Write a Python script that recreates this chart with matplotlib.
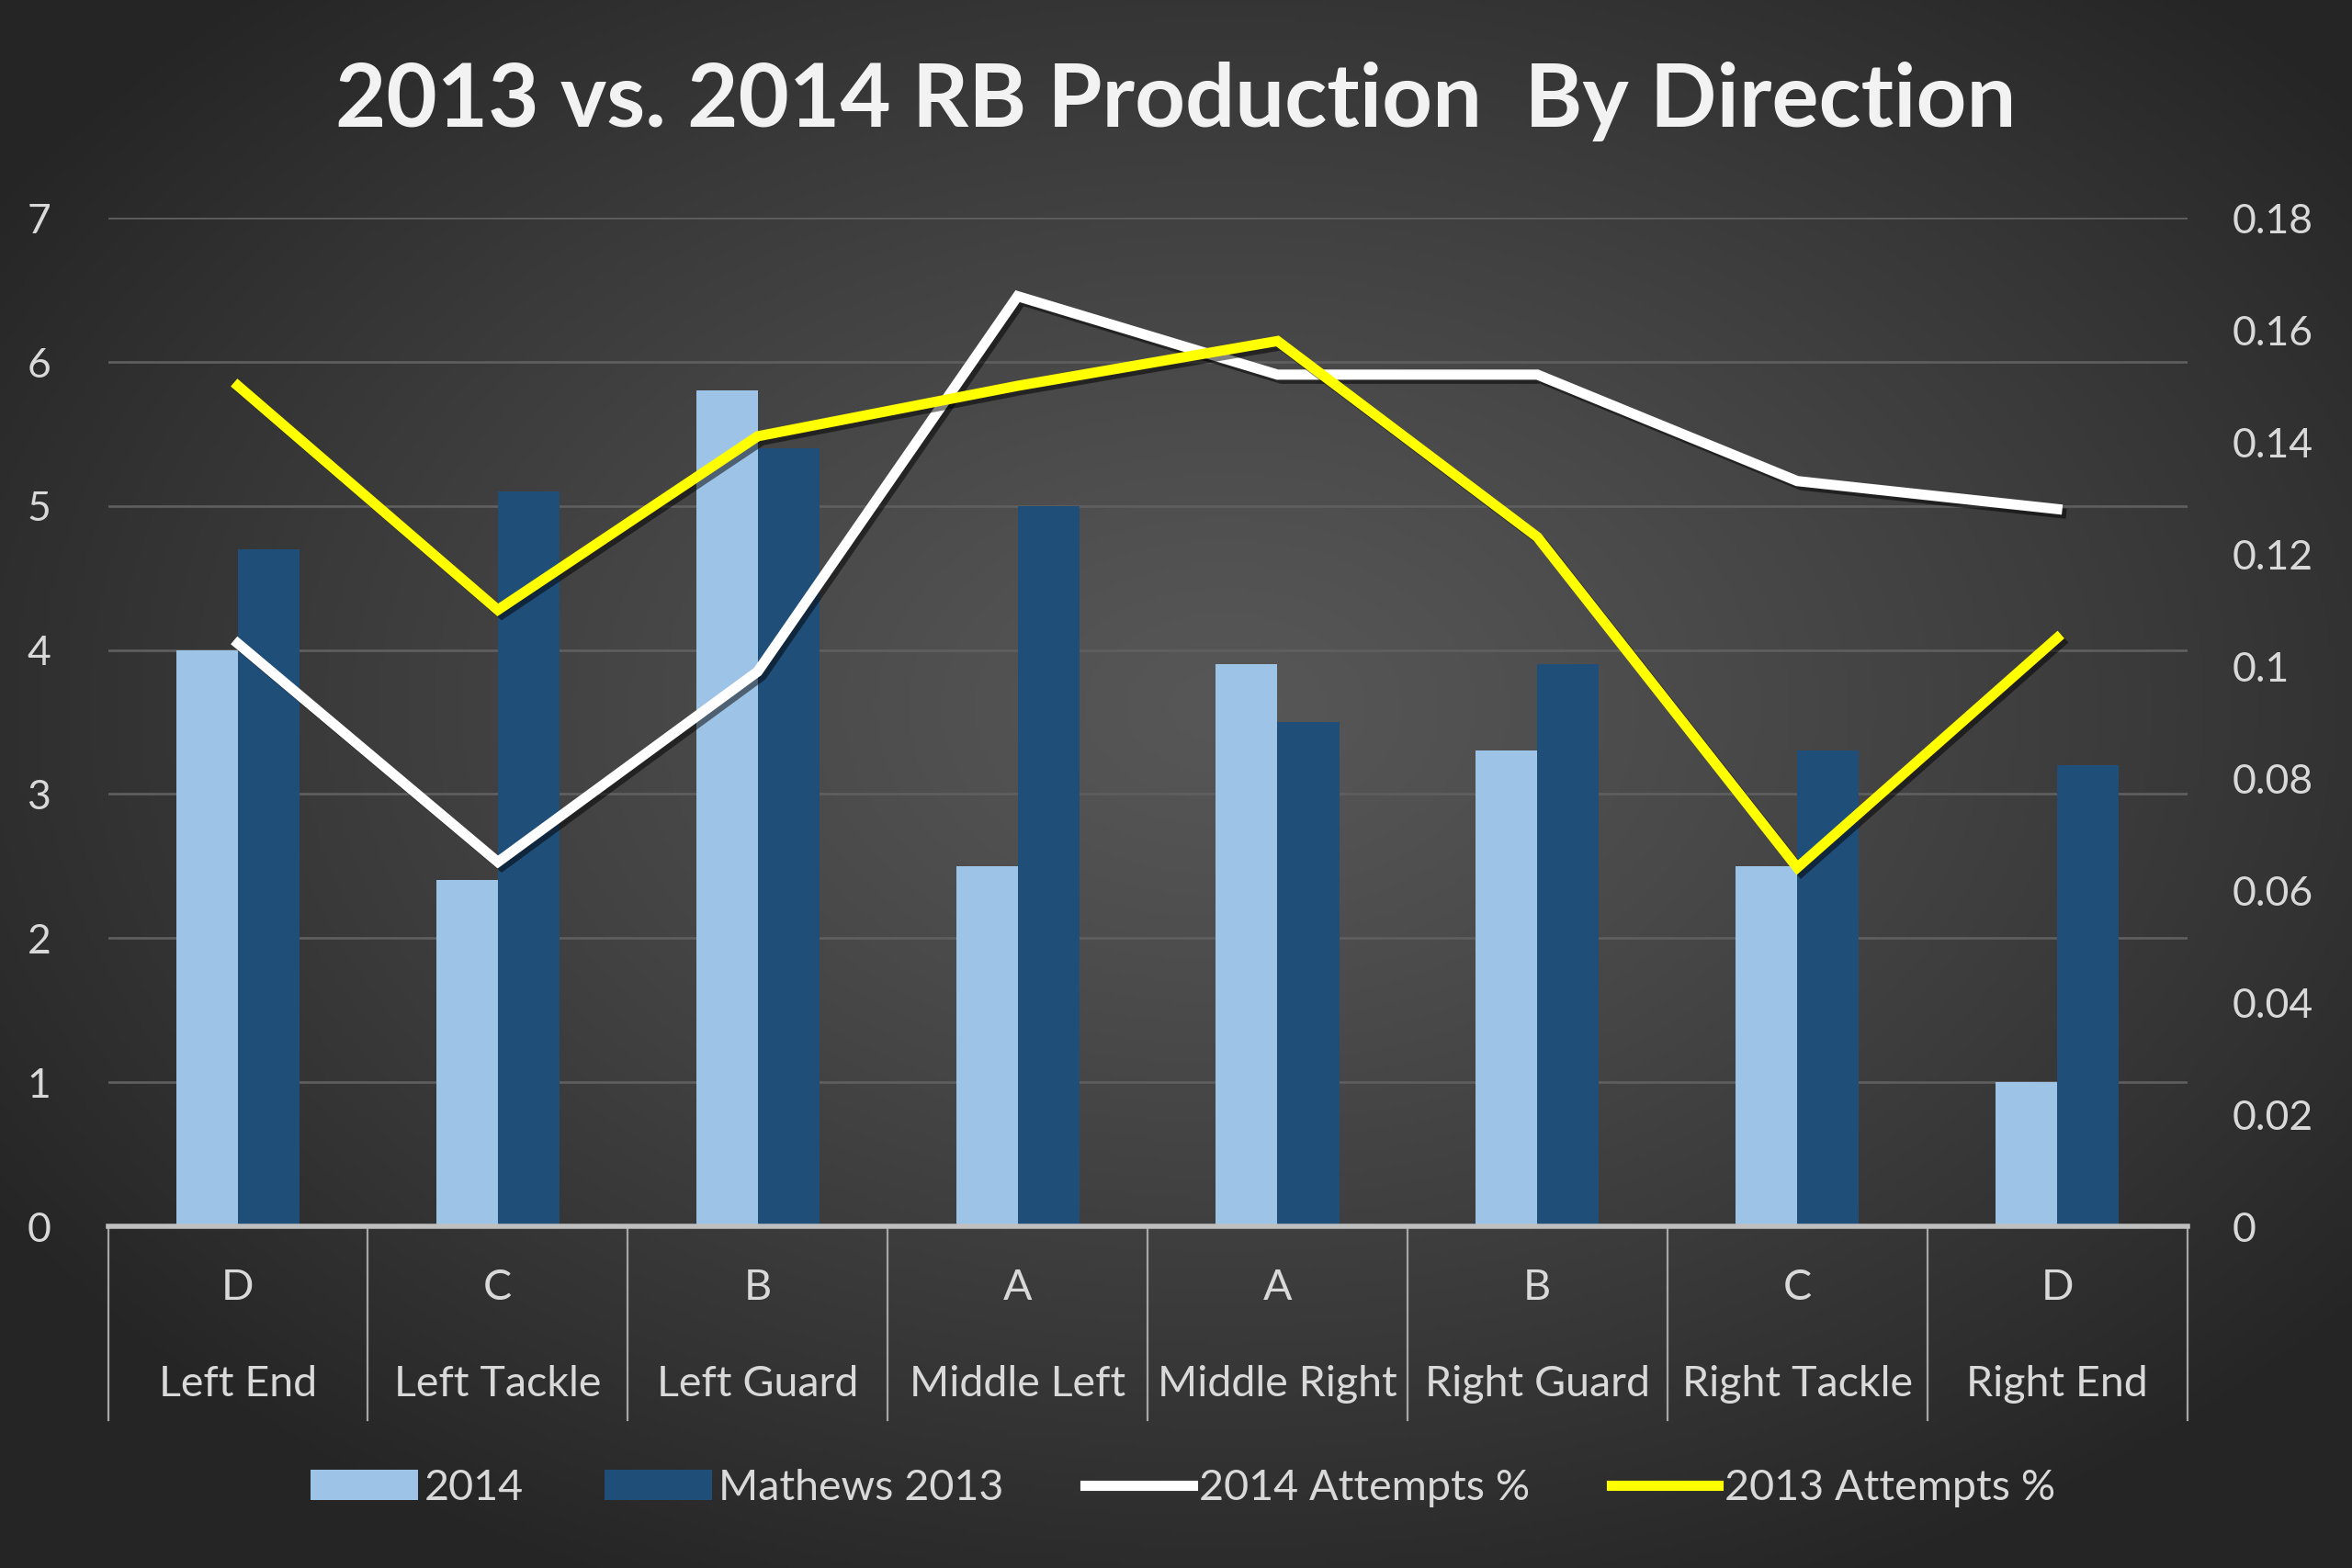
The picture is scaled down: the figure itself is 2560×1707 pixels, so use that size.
import numpy as np
import matplotlib
matplotlib.use("Agg")
import matplotlib.pyplot as plt
import matplotlib.transforms as mtransforms
import matplotlib.patheffects as pe
from matplotlib.patches import Patch
from matplotlib.lines import Line2D

plt.rcParams['font.family'] = ['Lato', 'DejaVu Sans']

# ---- data ----
gaps = ["D", "C", "B", "A", "A", "B", "C", "D"]
directions = ["Left End", "Left Tackle", "Left Guard", "Middle Left",
              "Middle Right", "Right Guard", "Right Tackle", "Right End"]
ypc_2014 = [4.0, 2.4, 5.8, 2.5, 3.9, 3.3, 2.5, 1.0]
ypc_mathews_2013 = [4.7, 5.1, 5.4, 5.0, 3.5, 3.9, 3.3, 3.2]
att_pct_2014 = [0.104, 0.065, 0.099, 0.166, 0.152, 0.152, 0.133, 0.128]
att_pct_2013 = [0.150, 0.110, 0.141, 0.150, 0.158, 0.123, 0.064, 0.105]
left_ticks = [0, 1, 2, 3, 4, 5, 6, 7]
right_ticks = [0, 0.02, 0.04, 0.06, 0.08, 0.1, 0.12, 0.14, 0.16, 0.18]
right_tick_labels = ["0", "0.02", "0.04", "0.06", "0.08", "0.1", "0.12", "0.14", "0.16", "0.18"]

TXT = "#d9d9d9"
LIGHT = "#9DC3E6"
DARK = "#1F4E79"

fig = plt.figure(figsize=(16, 10.67), dpi=160)

# radial gradient background
bg = fig.add_axes([0, 0, 1, 1], zorder=-10)
h, w = 400, 600
yy, xx = np.mgrid[0:h, 0:w]
cx, cy = 0.52 * w, 0.45 * h
r = np.sqrt(((xx - cx) / (0.62 * w)) ** 2 + ((yy - cy) / (0.62 * h)) ** 2)
r = np.clip(r, 0, 1)
c0, c1 = 0x57 / 255, 0x25 / 255
val = c0 + (c1 - c0) * r ** 1.2
img = np.dstack([val, val, val])
bg.imshow(img, aspect='auto', extent=[0, 1, 0, 1], origin='upper')
bg.set_axis_off()

ax = fig.add_axes([0.0459, 0.218, 0.884, 0.643])
ax.set_facecolor('none')
x = np.arange(len(directions))
bw = 0.237
ax.bar(x - bw / 2, ypc_2014, bw, color=LIGHT, zorder=2)
ax.bar(x + bw / 2, ypc_mathews_2013, bw, color=DARK, zorder=2)
ax.set_ylim(0, 7)
ax.set_xlim(-0.5, len(directions) - 0.5)
ax.set_yticks(left_ticks)
ax.set_yticklabels([str(t) for t in left_ticks])
ax.tick_params(axis='y', length=0, labelsize=20, colors=TXT, pad=28)
ax.set_xticks([])
for s in ['top', 'right', 'left']:
    ax.spines[s].set_visible(False)
ax.spines['bottom'].set_color('#bfbfbf')
ax.spines['bottom'].set_linewidth(2.5)
ax.spines['bottom'].set_zorder(5)
for t in left_ticks[1:]:
    ax.axhline(t, color='#5f5f5f', lw=1.2, zorder=1)

# category label "table"
trans = mtransforms.blended_transform_factory(ax.transData, ax.transAxes)
for b in np.arange(-0.5, len(directions), 1.0):
    ax.plot([b, b], [0, -0.192], transform=trans, color='#a6a6a6', lw=1.0, clip_on=False)
for i, (g, d) in enumerate(zip(gaps, directions)):
    ax.text(i, -0.061, g, transform=trans, ha='center', va='center', color=TXT, fontsize=21)
    ax.text(i, -0.157, d, transform=trans, ha='center', va='center', color=TXT, fontsize=21)

ax2 = ax.twinx()
ax2.set_ylim(0, 0.18)
ax2.set_yticks(right_ticks)
ax2.set_yticklabels(right_tick_labels)
ax2.tick_params(axis='y', length=0, labelsize=20, colors=TXT, pad=22)
for s in ax2.spines.values():
    s.set_visible(False)
shadow = [pe.SimpleLineShadow(offset=(2, -2), shadow_color='black', alpha=0.5), pe.Normal()]
ax2.plot(x, att_pct_2014, color='white', lw=5, solid_joinstyle='miter', zorder=3, path_effects=shadow)
ax2.plot(x, att_pct_2013, color='#FFFF00', lw=5, solid_joinstyle='miter', zorder=4, path_effects=shadow)

fig.text(0.5, 0.935, "2013 vs. 2014 RB Production  By Direction", ha='center', va='center',
         color='#f2f2f2', fontsize=43, fontweight='bold')

handles = [Patch(facecolor=LIGHT), Patch(facecolor=DARK),
           Line2D([0], [0], color='white', lw=5), Line2D([0], [0], color='#FFFF00', lw=5)]
labels = ["2014", "Mathews 2013", "2014 Attempts %", "2013 Attempts %"]
leg = fig.legend(handles, labels, loc='center', bbox_to_anchor=(0.503, 0.051), ncol=4,
                 frameon=False, fontsize=21, labelcolor=TXT, handlelength=2.5,
                 handletextpad=0.15, columnspacing=1.9)

fig.savefig("out.png", dpi=160)
